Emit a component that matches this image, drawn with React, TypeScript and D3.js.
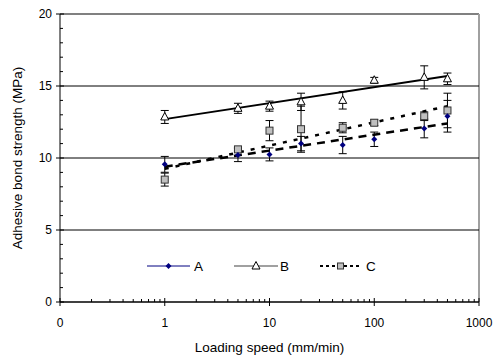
import React from "react";
import * as d3 from "d3";

// loading speeds (mm/min)
const speeds = [1, 5, 10, 20, 50, 100, 300, 500];

// mean adhesive bond strength (MPa) and error (+/-)
const seriesA = [9.56, 10.2, 10.25, 11.0, 10.9, 11.3, 12.05, 12.9];
const errA = [0.55, 0.45, 0.45, 0.5, 0.6, 0.5, 0.65, 1.1];
const seriesB = [12.85, 13.45, 13.6, 13.9, 14.0, 15.4, 15.6, 15.5];
const errB = [0.45, 0.35, 0.35, 0.6, 0.6, 0.2, 0.8, 0.4];
const seriesC = [8.5, 10.6, 11.9, 12.0, 12.1, 12.45, 12.9, 13.3];
const errC = [0.45, 0.12, 0.7, 1.6, 0.35, 0.2, 0.3, 1.2];

// logarithmic trend lines (end points)
const trendA = [[1, 9.4], [500, 12.4]];
const trendB = [[1, 12.7], [500, 15.7]];
const trendC = [[1, 9.25], [500, 13.6]];

const xTicks = [0.1, 1, 10, 100, 1000];
const xTickLabels = ["0", "1", "10", "100", "1000"];
const yTicks = [0, 5, 10, 15, 20];

const W = 495;
const H = 357;
const margin = { top: 14, right: 16, bottom: 55, left: 60 };
const font = "'Liberation Sans', Arial, sans-serif";

const App = () => {
  const x = d3.scaleLog().domain([0.1, 1000]).range([margin.left, W - margin.right]);
  const y = d3.scaleLinear().domain([0, 20]).range([H - margin.bottom, margin.top]);
  const x0 = x.range()[0];
  const x1 = x.range()[1];
  const y0 = y.range()[0];
  const y1 = y.range()[1];

  const minorX: number[] = [];
  for (let k = -1; k < 3; k++) {
    for (let m = 2; m <= 9; m++) minorX.push(m * Math.pow(10, k));
  }
  const minorY = d3.range(0, 21).filter((v) => v % 5 !== 0);

  const line = d3
    .line<number[]>()
    .x((d) => x(d[0]))
    .y((d) => y(d[1]));

  const errorBars = (vals: number[], errs: number[], key: string) =>
    speeds.map((s, i) => {
      const cx = x(s);
      const top = y(vals[i] + errs[i]);
      const bot = y(vals[i] - errs[i]);
      return (
        <g key={key + i} stroke="#000" strokeWidth={1}>
          <line x1={cx} x2={cx} y1={top} y2={bot} />
          <line x1={cx - 4} x2={cx + 4} y1={top} y2={top} />
          <line x1={cx - 4} x2={cx + 4} y1={bot} y2={bot} />
        </g>
      );
    });

  const diamond = (cx: number, cy: number, k: string) => (
    <path key={k} d={`M${cx},${cy - 3}L${cx + 3},${cy}L${cx},${cy + 3}L${cx - 3},${cy}Z`} fill="#000080" />
  );
  const triangle = (cx: number, cy: number, k: string) => (
    <path
      key={k}
      d={`M${cx},${cy - 4.5}L${cx + 4},${cy + 3}L${cx - 4},${cy + 3}Z`}
      fill="#fff"
      stroke="#000"
      strokeWidth={1}
    />
  );
  const square = (cx: number, cy: number, k: string) => (
    <rect key={k} x={cx - 3.5} y={cy - 3.5} width={7} height={7} fill="#c0c0c0" stroke="#333" strokeWidth={1} />
  );

  const legendY = 266;

  return (
    <svg width={W} height={H} style={{ position: "absolute", left: 0, top: 0, background: "#fff" }} fontFamily={font}>
      {/* plot frame */}
      <line x1={x0} x2={x1} y1={y1} y2={y1} stroke="#808080" strokeWidth={2} />
      <line x1={x1} x2={x1} y1={y1} y2={y0} stroke="#a0a0a0" strokeWidth={2} />
      {yTicks
        .filter((v) => v > 0 && v < 20)
        .map((v) => (
          <line key={"g" + v} x1={x0} x2={x1} y1={y(v)} y2={y(v)} stroke="#000" strokeWidth={1} />
        ))}

      {/* y axis */}
      <line x1={x0} x2={x0} y1={y0} y2={y1} stroke="#000" strokeWidth={1} />
      {yTicks.map((v) => (
        <g key={"yt" + v}>
          <line x1={x0 - 4} x2={x0 + 4} y1={y(v)} y2={y(v)} stroke="#000" />
          <text x={x0 - 8} y={y(v)} dy="0.35em" textAnchor="end" fontSize={12}>
            {v}
          </text>
        </g>
      ))}
      {minorY.map((v) => (
        <line key={"ym" + v} x1={x0} x2={x0 + 3} y1={y(v)} y2={y(v)} stroke="#000" />
      ))}

      {/* x axis */}
      <line x1={x0} x2={x1} y1={y0} y2={y0} stroke="#000" strokeWidth={1.5} />
      {xTicks.map((v, i) => (
        <g key={"xt" + v}>
          <line x1={x(v)} x2={x(v)} y1={y0 - 4} y2={y0 + 4} stroke="#000" />
          <text x={x(v)} y={y0 + 25} textAnchor="middle" fontSize={12}>
            {xTickLabels[i]}
          </text>
        </g>
      ))}
      {minorX.map((v) => (
        <line key={"xm" + v} x1={x(v)} x2={x(v)} y1={y0} y2={y0 - 3} stroke="#000" />
      ))}

      {/* axis titles */}
      <text x={(x0 + x1) / 2} y={H - 5} textAnchor="middle" fontSize={13.5}>
        Loading speed (mm/min)
      </text>
      <text
        transform={`translate(22,${(y0 + y1) / 2}) rotate(-90)`}
        textAnchor="middle"
        fontSize={13.5}
      >
        Adhesive bond strength (MPa)
      </text>

      {/* trend lines */}
      <path d={line(trendB) || ""} fill="none" stroke="#000" strokeWidth={2} />
      <path d={line(trendA) || ""} fill="none" stroke="#000" strokeWidth={2.5} strokeDasharray="8,6" />
      <path d={line(trendC) || ""} fill="none" stroke="#000" strokeWidth={2.5} strokeDasharray="4,7" />

      {/* error bars */}
      {errorBars(seriesB, errB, "eb")}
      {errorBars(seriesC, errC, "ec")}
      {errorBars(seriesA, errA, "ea")}

      {/* markers */}
      {speeds.map((s, i) => triangle(x(s), y(seriesB[i]), "mb" + i))}
      {speeds.map((s, i) => square(x(s), y(seriesC[i]), "mc" + i))}
      {speeds.map((s, i) => diamond(x(s), y(seriesA[i]), "ma" + i))}

      {/* legend */}
      <line x1={147} x2={190} y1={legendY} y2={legendY} stroke="#000080" strokeWidth={1} />
      {diamond(168.5, legendY, "la")}
      <text x={194} y={legendY} dy="0.36em" fontSize={13.5}>
        A
      </text>
      <line x1={234} x2={278} y1={legendY} y2={legendY} stroke="#808080" strokeWidth={1.5} />
      {triangle(256, legendY, "lb")}
      <text x={280} y={legendY} dy="0.36em" fontSize={13.5}>
        B
      </text>
      <line x1={320} x2={361} y1={legendY} y2={legendY} stroke="#000" strokeWidth={2} strokeDasharray="3,3" />
      <rect x={337.5} y={legendY - 3} width={6} height={6} fill="#c0c0c0" stroke="#333" strokeWidth={1} />
      <text x={366} y={legendY} dy="0.36em" fontSize={13.5}>
        C
      </text>
    </svg>
  );
};

export default App;
